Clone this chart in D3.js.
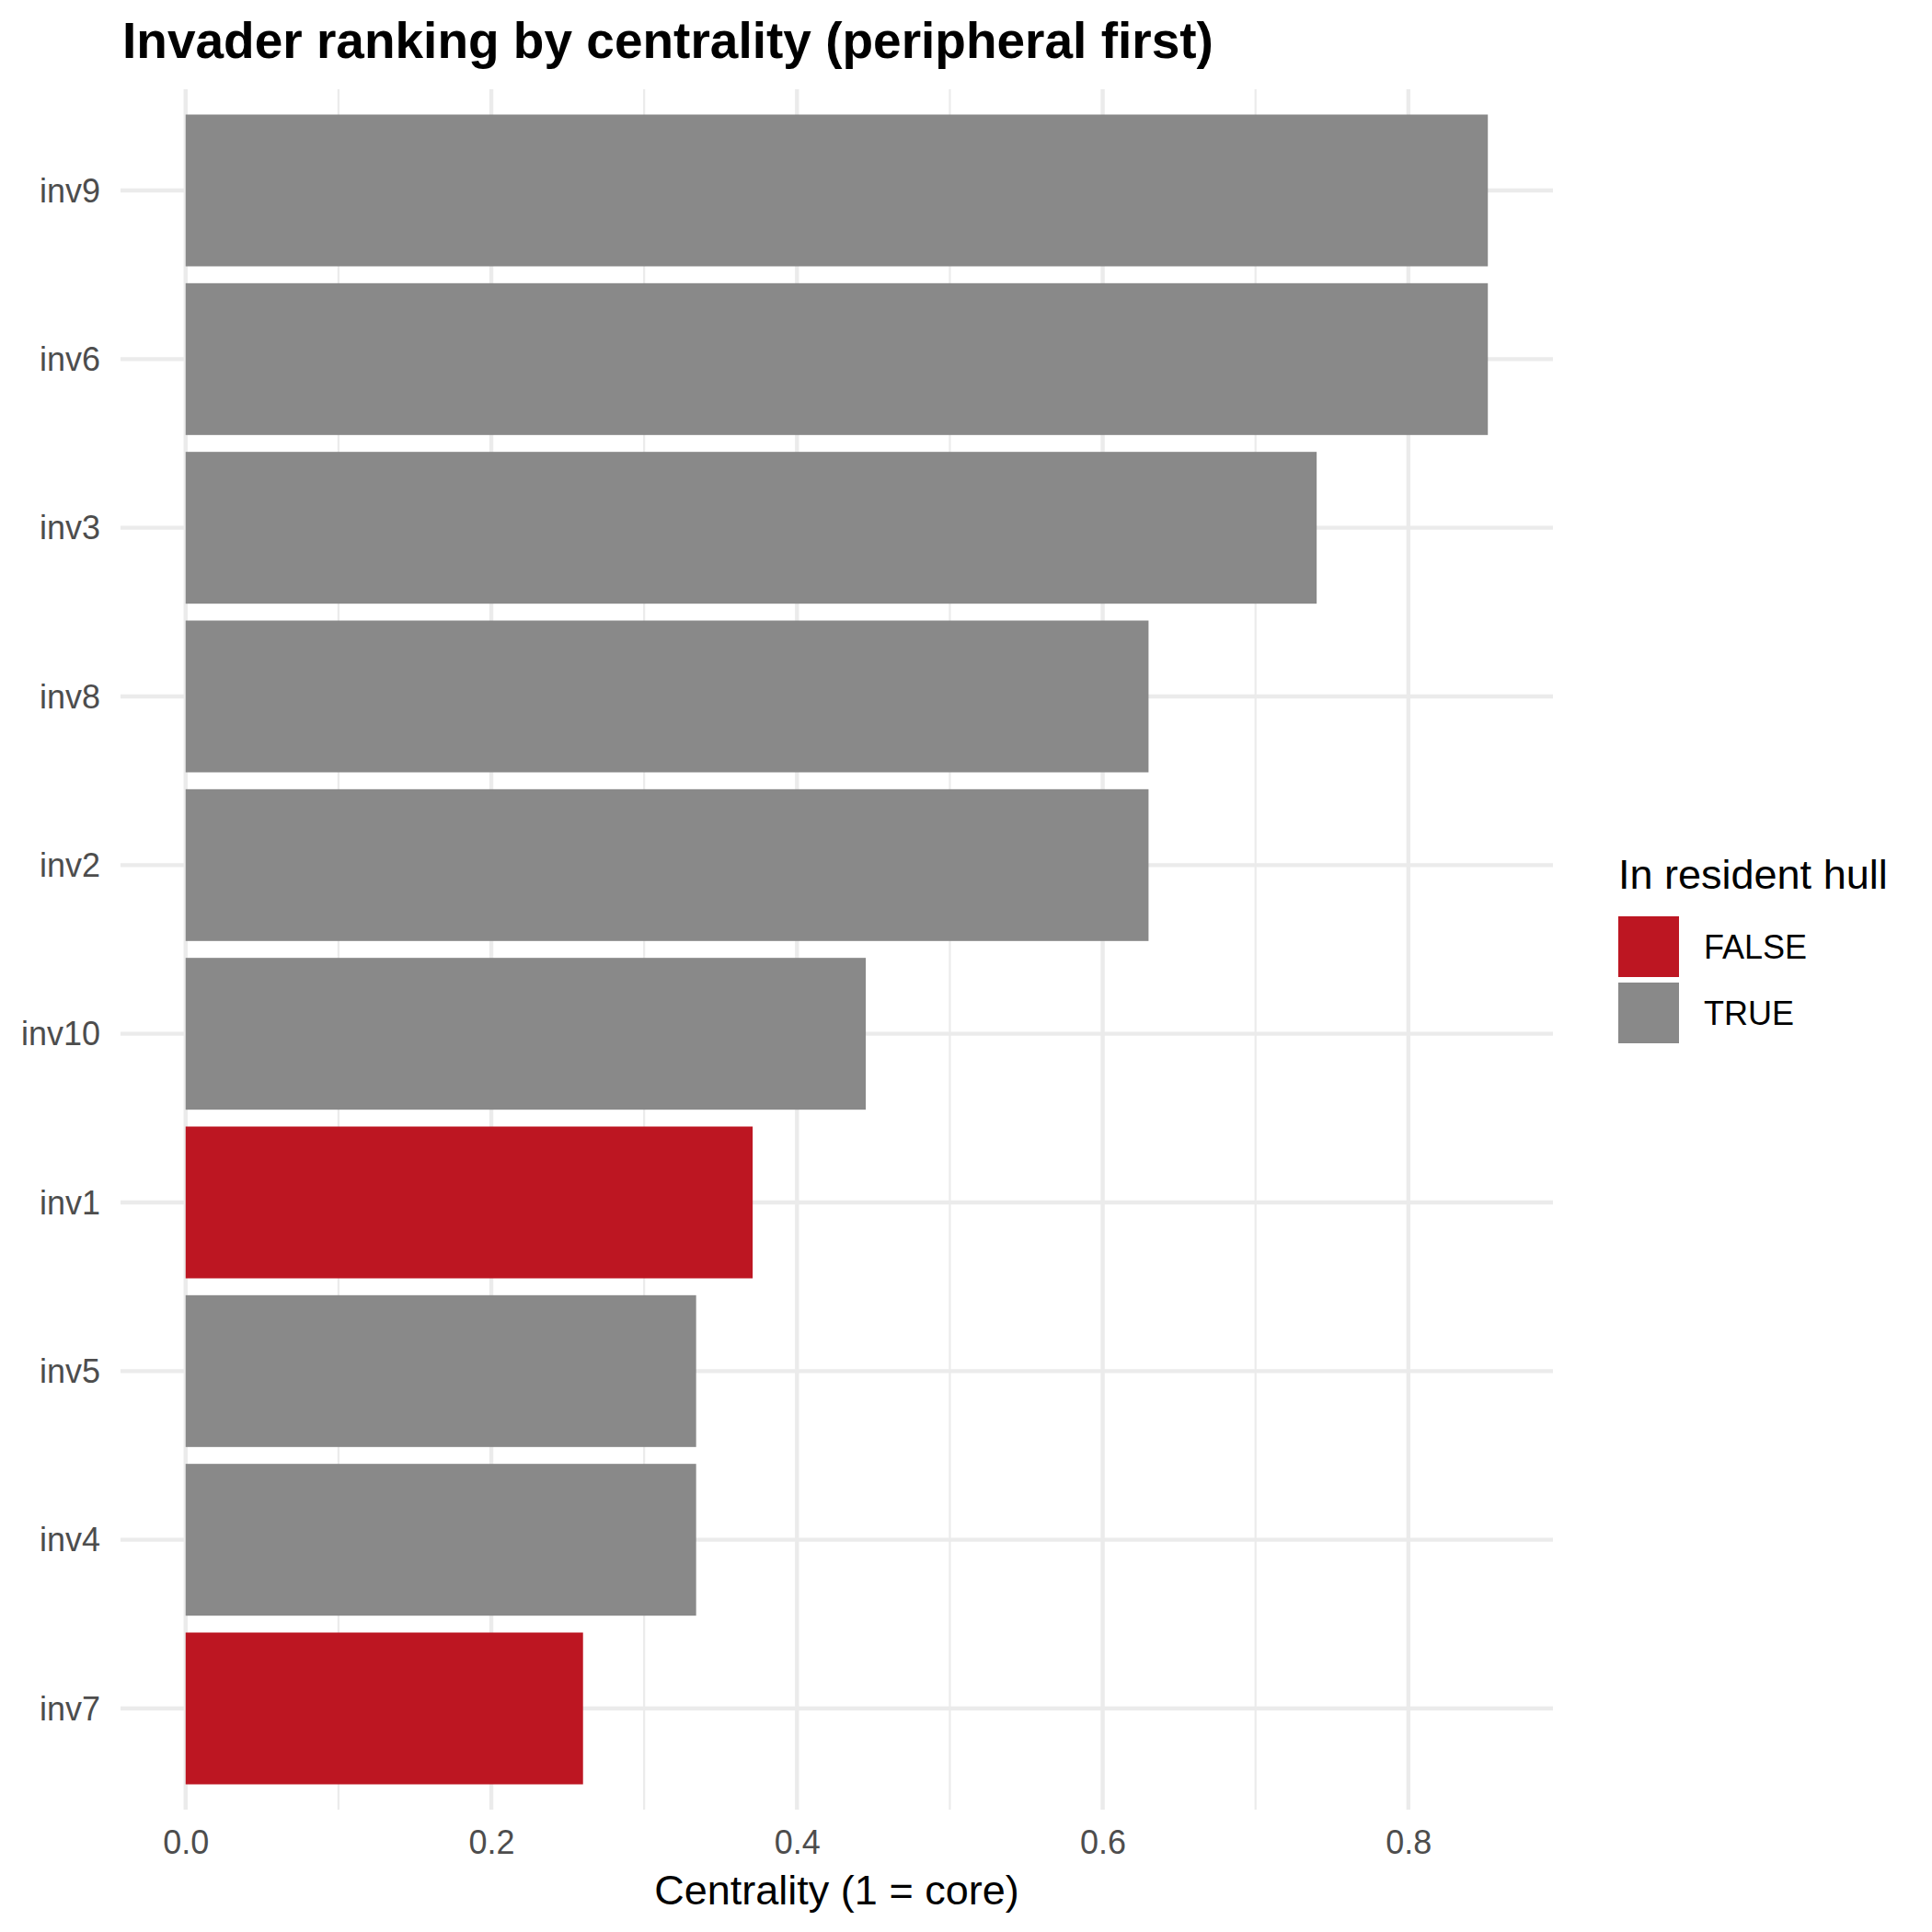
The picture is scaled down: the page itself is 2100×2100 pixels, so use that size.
<!DOCTYPE html>
<html>
<head>
<meta charset="utf-8">
<script src="https://cdn.jsdelivr.net/npm/d3@7"></script>
<style>
  html, body { margin: 0; padding: 0; background: #ffffff; }
  svg { display: block; font-family: "Liberation Sans", Arial, Helvetica, sans-serif; }
</style>
</head>
<body>
<script>
// ---- data (bottom to top, peripheral first) ----
const categories = ["inv7", "inv4", "inv5", "inv1", "inv10", "inv2", "inv8", "inv3", "inv6", "inv9"];
const centrality = [0.260, 0.334, 0.334, 0.371, 0.445, 0.630, 0.630, 0.740, 0.852, 0.852];
const inHull     = ["FALSE", "TRUE", "TRUE", "FALSE", "TRUE", "TRUE", "TRUE", "TRUE", "TRUE", "TRUE"];
const xTicks = [0, 0.2, 0.4, 0.6, 0.8];
const xMinorTicks = [0.1, 0.3, 0.5, 0.7];
const legendLevels = ["FALSE", "TRUE"];
const legendColors = ["#BD1622", "#898989"];
const titleText = "Invader ranking by centrality (peripheral first)";
const xTitle = "Centrality (1 = core)";
const legendTitle = "In resident hull";

const data = categories.map((c, i) => ({ cat: c, value: centrality[i], hull: inHull[i] }));

const W = 2100, H = 2100;
const panel = { left: 131, right: 1688, top: 97, bottom: 1967 };

const svg = d3.select("body").append("svg")
  .attr("width", W).attr("height", H);

svg.append("rect").attr("width", W).attr("height", H).attr("fill", "#ffffff");

const maxV = d3.max(centrality);
const x = d3.scaleLinear()
  .domain([-0.05 * maxV, 1.05 * maxV])
  .range([panel.left, panel.right]);

const y = d3.scaleBand()
  .domain(categories.slice().reverse())
  .range([panel.top, panel.bottom])
  .paddingInner(0.1)
  .paddingOuter(0.15)
  .align(0.5);

const color = d3.scaleOrdinal().domain(legendLevels).range(legendColors);

const grid = svg.append("g");
// minor vertical gridlines
grid.selectAll("line.minor").data(xMinorTicks).enter().append("line")
  .attr("x1", d => x(d)).attr("x2", d => x(d))
  .attr("y1", panel.top).attr("y2", panel.bottom)
  .attr("stroke", "#EBEBEB").attr("stroke-width", 2.2);
// major vertical gridlines
grid.selectAll("line.majorx").data(xTicks).enter().append("line")
  .attr("x1", d => x(d)).attr("x2", d => x(d))
  .attr("y1", panel.top).attr("y2", panel.bottom)
  .attr("stroke", "#EBEBEB").attr("stroke-width", 4.4);
// major horizontal gridlines
grid.selectAll("line.majory").data(categories).enter().append("line")
  .attr("x1", panel.left).attr("x2", panel.right)
  .attr("y1", d => y(d) + y.bandwidth() / 2).attr("y2", d => y(d) + y.bandwidth() / 2)
  .attr("stroke", "#EBEBEB").attr("stroke-width", 4.4);

// bars
svg.append("g").selectAll("rect").data(data).enter().append("rect")
  .attr("x", x(0))
  .attr("y", d => y(d.cat))
  .attr("width", d => x(d.value) - x(0))
  .attr("height", y.bandwidth())
  .attr("fill", d => color(d.hull));

// x axis
const xAxis = d3.axisBottom(x).tickValues(xTicks).tickFormat(d3.format(".1f")).tickSize(0).tickPadding(0);
const gx = svg.append("g").attr("transform", `translate(0,${panel.bottom})`).call(xAxis);
gx.select(".domain").remove();
gx.selectAll("text")
  .attr("y", 0).attr("dy", null)
  .attr("transform", "translate(0,48)")
  .attr("font-size", 36).attr("fill", "#4D4D4D")
  .attr("font-family", "Liberation Sans, Arial, sans-serif");

// y axis
const yAxis = d3.axisLeft(y).tickSize(0).tickPadding(0);
const gy = svg.append("g").attr("transform", `translate(109,0)`).call(yAxis);
gy.select(".domain").remove();
gy.selectAll("text")
  .attr("x", 0).attr("dy", "0.35em")
  .attr("font-size", 36).attr("fill", "#4D4D4D")
  .attr("font-family", "Liberation Sans, Arial, sans-serif");

// x axis title
svg.append("text")
  .attr("x", (panel.left + panel.right) / 2).attr("y", 2070)
  .attr("text-anchor", "middle")
  .attr("font-size", 45).attr("fill", "#000000")
  .text(xTitle);

// title
svg.append("text")
  .attr("x", 133).attr("y", 63)
  .attr("font-size", 55).attr("font-weight", "bold").attr("fill", "#000000")
  .text(titleText);

// legend
const lg = svg.append("g");
lg.append("text").attr("x", 1759).attr("y", 966)
  .attr("font-size", 45).attr("fill", "#000000").text(legendTitle);
const keySize = 66, keyStep = 72, keyTop = 996;
legendLevels.forEach((lv, i) => {
  lg.append("rect")
    .attr("x", 1759).attr("y", keyTop + i * keyStep)
    .attr("width", keySize).attr("height", keySize)
    .attr("fill", color(lv));
  lg.append("text")
    .attr("x", 1852).attr("y", keyTop + i * keyStep + keySize / 2)
    .attr("dy", "0.35em")
    .attr("font-size", 36).attr("fill", "#000000").text(lv);
});
</script>
</body>
</html>
